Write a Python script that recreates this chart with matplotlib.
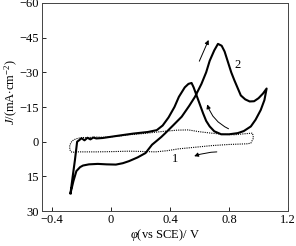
import matplotlib
matplotlib.use("Agg")
import matplotlib.pyplot as plt

plt.rcParams['font.family'] = ['Liberation Serif', 'DejaVu Serif']
plt.rcParams['mathtext.fontset'] = 'custom'
plt.rcParams['mathtext.rm'] = 'Liberation Serif'
plt.rcParams['mathtext.it'] = 'Liberation Serif:italic'
plt.rcParams['axes.unicode_minus'] = True

# curve 2 (solid): forward scan from -0.28 V, then reverse
x2 = [-0.275, -0.255, -0.235, -0.21, -0.19, -0.15, -0.09, -0.03, 0.033, 0.08,
      0.122, 0.18, 0.234, 0.278, 0.312, 0.34, 0.368, 0.42, 0.479, 0.53,
      0.569, 0.613, 0.645, 0.669, 0.70, 0.725, 0.75, 0.77, 0.79, 0.815,
      0.836, 0.86, 0.88, 0.91, 0.94, 0.97, 1.0, 1.03, 1.055,
      1.04, 1.015, 0.98, 0.948, 0.90, 0.859, 0.80, 0.747, 0.70, 0.669,
      0.645, 0.624, 0.60, 0.58, 0.56, 0.546, 0.525, 0.50, 0.46, 0.43,
      0.39, 0.35, 0.31, 0.25, 0.15, 0.05, -0.057, -0.10, -0.12, -0.14,
      -0.16, -0.18, -0.20, -0.217, -0.23, -0.245, -0.26, -0.275]
y2 = [22.3, 17, 12.7, 11, 10.3, 9.8, 9.6, 9.8, 9.9, 9.3,
      8.4, 6.8, 4.9, 1.3, -0.5, -2, -3.7, -7, -10.8, -15.5,
      -19.4, -25, -30, -35, -39.5, -42.3, -41.5, -39, -35, -30,
      -26.6, -23, -20, -18.3, -17.4, -17.5, -18.8, -20.8, -23,
      -18, -13.7, -9.5, -6.6, -4.6, -3.7, -3.2, -3.2, -4.5, -6.6,
      -9, -12.3, -16.5, -20, -23.5, -25.4, -25, -23.5, -19.4, -15,
      -10.5, -7, -5, -4.2, -3.5, -2.6, -1.6, -1.4, -1.8, -1.0,
      -1.7, -0.6, -1.5, -0.6, 0, 8, 15, 22.3]

# curve 1 (dotted)
x1 = [-0.235, -0.265, -0.28, -0.28, -0.265, -0.24, -0.20, -0.15, -0.10, -0.05,
      0.05, 0.122, 0.2, 0.345, 0.45, 0.524, 0.60, 0.68, 0.76, 0.836,
      0.90, 0.959, 0.966, 0.948, 0.926, 0.80, 0.68, 0.57, 0.457, 0.38,
      0.301, 0.2, 0.122, 0.0, -0.1, -0.235]
y1 = [4.4, 4.6, 3.5, 1.5, -0.3, -1.2, -1.8, -1.8, -2.0, -1.9,
      -2.4, -3.0, -3.4, -4.4, -5.0, -5.1, -4.3, -3.7, -3.2, -3.0,
      -3.4, -3.7, -1.6, 0.6, 0.9, 1.2, 1.7, 2.4, 3.1, 3.9,
      4.4, 4.2, 4.1, 4.3, 4.4, 4.4]

xticks = [-0.4, 0, 0.4, 0.8, 1.2]
yticks = [-60, -45, -30, -15, 0, 15, 30]

fig = plt.figure(figsize=(2.96, 2.46), dpi=100)
ax = fig.add_axes([0.141, 0.142, 0.832, 0.846])

ax.plot(x2, y2, color='black', lw=1.5, solid_joinstyle='round')
ax.plot(x1, y1, color='black', lw=0.8, linestyle=(0, (1, 1)))

ax.set_xlim(-0.47, 1.2)
ax.set_ylim(30, -60)
ax.set_xticks(xticks)
ax.set_xticklabels(['\u22120.4', '0', '0.4', '0.8', '1.2'])
ax.set_yticks(yticks)
ax.set_yticklabels(['\u221260', '\u221245', '\u221230', '\u221215', '0', '15', '30'])
ax.tick_params(direction='in', length=3, width=0.6, labelsize=9, pad=2)
for s in ax.spines.values():
    s.set_linewidth(0.7)
    s.set_color('#444444')

ax.set_xlabel(r'$\varphi$(vs SCE)/ V', fontsize=9, labelpad=1)
ax.set_ylabel(r'$J$/(mA$\cdot$cm$^{-2}$)', fontsize=9)
ax.yaxis.set_label_coords(-0.09, 0.57)

# labels and scan direction arrows
ax.text(0.86, -33, '2', fontsize=9, ha='center', va='center')
ax.text(0.432, 7.6, '1', fontsize=9, ha='center', va='center')
arrow = dict(arrowstyle='-|>', color='black', lw=0.7, mutation_scale=6)
ax.annotate('', xy=(0.669, -45.1), xytext=(0.591, -33.7), arrowprops=arrow)
ax.annotate('', xy=(0.647, -17.3), xytext=(0.814, -5.1),
            arrowprops=dict(arrow, connectionstyle='arc3,rad=-0.25'))
ax.annotate('', xy=(0.546, 6.7), xytext=(0.736, 4.4),
            arrowprops=dict(arrow, connectionstyle='arc3,rad=0.1'))

fig.savefig('out.png', dpi=100)
